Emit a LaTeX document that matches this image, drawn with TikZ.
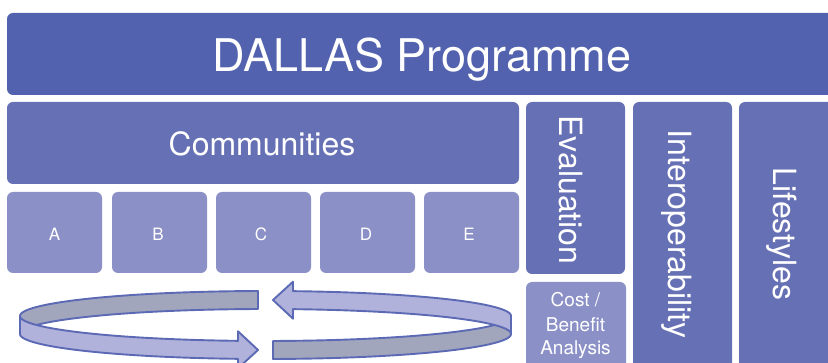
\documentclass[tikz,border=0pt]{standalone}
\usepackage{fontspec}
\setmainfont{TeX Gyre Heros}
\definecolor{cTitle}{RGB}{82,98,174}
\definecolor{cMid}{RGB}{102,112,180}
\definecolor{cLight}{RGB}{139,144,199}
\definecolor{ringedge}{RGB}{92,105,180}
\definecolor{ringlight}{RGB}{177,178,219}
\definecolor{ringdark}{RGB}{161,166,189}
\newcommand\myringpiece{%
    \draw[ringline, fill=ringdark]
      plot[domain=91.75:180, samples=60] ({265.5+245.5*cos(\x)},{316-25*sin(\x)})
      -- plot[domain=180:91.75, samples=60] ({265.5+245.5*cos(\x)},{334-25*sin(\x)})
      -- cycle;
    \draw[ringline, fill=ringlight]
      plot[domain=180:263.57, samples=60] ({265.5+245.5*cos(\x)},{316-25*sin(\x)})
      -- (238,331.3) -- (258,350) -- (238,368.3)
      -- plot[domain=263.57:180, samples=60] ({265.5+245.5*cos(\x)},{334-25*sin(\x)})
      -- cycle;
}
\begin{document}
\begin{tikzpicture}[x=1pt,y=-1pt,
  panel/.style={rounded corners=6pt, inner sep=0pt, outer sep=0pt, anchor=north west, draw=none},
  lbl/.style={text=white, inner sep=0pt},
  bigtxt/.style={font=\fontsize{32}{38}\selectfont},
  ringline/.style={draw=ringedge, line width=1.9pt, line join=round}
]
\path[use as bounding box] (0,0) rectangle (828,363);
\clip (0,0) rectangle (828,363);

% boxes
\node[panel, fill=cTitle, minimum width=830pt, minimum height=82pt] (title) at (7,13) {};
\node[panel, fill=cMid, minimum width=512pt, minimum height=82pt] (comm) at (7,102) {};
\node[panel, fill=cLight, minimum width=95pt, minimum height=81pt] (boxA) at (7,192) {};
\node[panel, fill=cLight, minimum width=95pt, minimum height=81pt] (boxB) at (112,192) {};
\node[panel, fill=cLight, minimum width=95pt, minimum height=81pt] (boxC) at (216,192) {};
\node[panel, fill=cLight, minimum width=95pt, minimum height=81pt] (boxD) at (320,192) {};
\node[panel, fill=cLight, minimum width=95pt, minimum height=81pt] (boxE) at (424,192) {};
\node[panel, fill=cMid, minimum width=99pt, minimum height=172pt] (evalbox) at (526,102) {};
\node[panel, fill=cLight, minimum width=100pt, minimum height=100pt] (costbox) at (526,282) {};
\node[panel, fill=cMid, minimum width=99pt, minimum height=300pt] (interbox) at (633,102) {};
\node[panel, fill=cMid, minimum width=99pt, minimum height=300pt] (lifebox) at (739,102) {};

% texts
\node[lbl, anchor=base, font=\fontsize{45}{54}\selectfont] (titletext) at (422,72) {DALLAS Programme};
\node[lbl, anchor=base, bigtxt] (commtext) at (262,156) {Communities};
\node[lbl, anchor=base, font=\fontsize{17}{20}\selectfont] (tA) at (54.5,241) {A};
\node[lbl, anchor=base, font=\fontsize{17}{20}\selectfont] (tB) at (158,241) {B};
\node[lbl, anchor=base, font=\fontsize{17}{20}\selectfont] (tC) at (261,241) {C};
\node[lbl, anchor=base, font=\fontsize{17}{20}\selectfont] (tD) at (366,241) {D};
\node[lbl, anchor=base, font=\fontsize{17}{20}\selectfont] (tE) at (469,241) {E};
\node[lbl, rotate=-90, bigtxt] (evaltext) at (571,190) {Evaluation};
\node[lbl, rotate=-90, bigtxt] (intertext) at (677,234) {Interoperability};
\node[lbl, rotate=-90, bigtxt] (lifetext) at (782,234) {Lifestyles};
\node[lbl, anchor=base, font=\fontsize{19}{22}\selectfont] (cost1) at (575.5,307) {Cost /};
\node[lbl, anchor=base, font=\fontsize{19}{22}\selectfont] (cost2) at (575.5,332) {Benefit};
\node[lbl, anchor=base, font=\fontsize{19}{22}\selectfont] (cost3) at (575.5,355) {Analysis};

% circular arrows
\begin{scope}
\myringpiece
\end{scope}
\begin{scope}[rotate around={180:(265.5,325)}]
\myringpiece
\end{scope}
\end{tikzpicture}
\end{document}
